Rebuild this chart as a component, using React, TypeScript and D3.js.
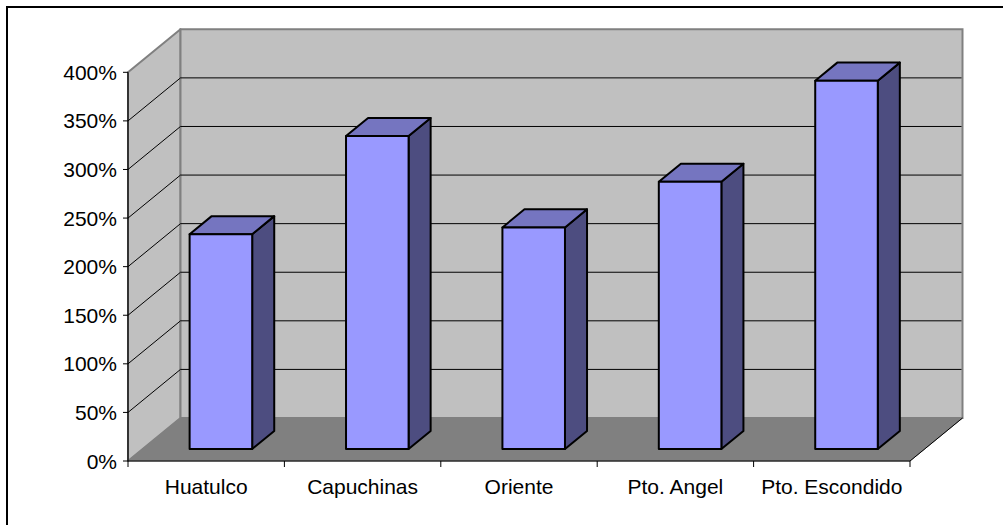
import React from "react";
import * as d3 from "d3";

const categories = ["Huatulco", "Capuchinas", "Oriente", "Pto. Angel", "Pto. Escondido"];
const values = [221, 322, 228, 275, 379];
const yTicks = [0, 50, 100, 150, 200, 250, 300, 350, 400];

const W = 1003;
const H = 525;
const FONT = "'Liberation Sans', Arial, sans-serif";

// front plane of the plot
const x0 = 128;
const x1 = 910;
const yBase = 461;
const yTop = 72.3;
// depth vector to the back wall
const DX = 52.5;
const DY = -43;
// bar depth span (fraction of the full depth)
const D0 = 0.28;
const D1 = 0.7;

export default function App() {
  const x = d3.scaleBand<string>().domain(categories).range([x0, x1]).paddingInner(0.6).paddingOuter(0.3);
  const y = d3.scaleLinear().domain([0, 400]).range([yBase, yTop]);
  const step = x.step();

  // project (screen x on front plane, value, depth) -> screen point
  const P = (sx: number, v: number, d: number): [number, number] => [sx + d * DX, y(v) + d * DY];
  const poly = (pts: [number, number][]) => pts.map((p) => p.join(",")).join(" ");

  const backWall = poly([P(x0, 0, 1), P(x1, 0, 1), P(x1, 400, 1), P(x0, 400, 1)]);
  const sideWall = poly([P(x0, 0, 0), P(x0, 0, 1), P(x0, 400, 1), P(x0, 400, 0)]);
  const floor = poly([P(x0, 0, 0), P(x1, 0, 0), P(x1, 0, 1), P(x0, 0, 1)]);

  const boundaries = d3.range(categories.length + 1).map((i) => x0 + i * step);

  return (
    <svg width={W} height={H} style={{ position: "absolute", left: 0, top: 0, background: "#fff" }}>
      <rect x={7} y={7} width={1010} height={530} fill="#fff" stroke="#000" strokeWidth={2} />

      {/* walls */}
      <polygon points={sideWall} fill="#C0C0C0" stroke="#808080" strokeWidth={2} strokeLinejoin="round" />
      <polygon points={backWall} fill="#C0C0C0" stroke="#808080" strokeWidth={2} />

      {/* gridlines on back and side walls */}
      {yTicks.slice(1, -1).map((t) => {
        const a = P(x0, t, 0);
        const b = P(x0, t, 1);
        const c = P(x1, t, 1);
        return (
          <g key={t}>
            <line x1={a[0]} y1={a[1]} x2={b[0]} y2={b[1]} stroke="#000" strokeWidth={1} />
            <line x1={b[0]} y1={b[1]} x2={c[0] - 1} y2={c[1]} stroke="#000" strokeWidth={1} />
          </g>
        );
      })}

      {/* floor */}
      <polygon points={floor} fill="#808080" stroke="#808080" strokeWidth={1} />
      <line x1={P(x1, 0, 0)[0]} y1={P(x1, 0, 0)[1]} x2={P(x1, 0, 1)[0]} y2={P(x1, 0, 1)[1]} stroke="#000" strokeWidth={1} />

      {/* axes */}
      <line x1={x0} y1={yTop} x2={x0} y2={yBase} stroke="#000" strokeWidth={1.2} />
      <line x1={x0} y1={yBase} x2={x1} y2={yBase} stroke="#000" strokeWidth={1.2} />
      {yTicks.map((t) => (
        <g key={t}>
          <line x1={x0 - 5} y1={y(t)} x2={x0} y2={y(t)} stroke="#000" strokeWidth={1} />
          <text x={117} y={y(t)} dy="0.36em" textAnchor="end" fontFamily={FONT} fontSize={21} fill="#000">
            {t}%
          </text>
        </g>
      ))}
      {boundaries.map((b, i) => (
        <line key={i} x1={b} y1={yBase} x2={b} y2={yBase + 6} stroke="#000" strokeWidth={1} />
      ))}
      {categories.map((c) => (
        <text key={c} x={(x(c) as number) + x.bandwidth() / 2} y={494} textAnchor="middle" fontFamily={FONT} fontSize={21} fill="#000">
          {c}
        </text>
      ))}

      {/* bars */}
      {categories.map((c, i) => {
        const v = values[i];
        const l = x(c) as number;
        const r = l + x.bandwidth();
        const front = poly([P(l, 0, D0), P(r, 0, D0), P(r, v, D0), P(l, v, D0)]);
        const top = poly([P(l, v, D0), P(r, v, D0), P(r, v, D1), P(l, v, D1)]);
        const side = poly([P(r, 0, D0), P(r, 0, D1), P(r, v, D1), P(r, v, D0)]);
        return (
          <g key={c} stroke="#000" strokeWidth={2} strokeLinejoin="round">
            <polygon points={side} fill="#4D4D80" />
            <polygon points={top} fill="#7575C0" />
            <polygon points={front} fill="#9999FF" />
          </g>
        );
      })}
    </svg>
  );
}
